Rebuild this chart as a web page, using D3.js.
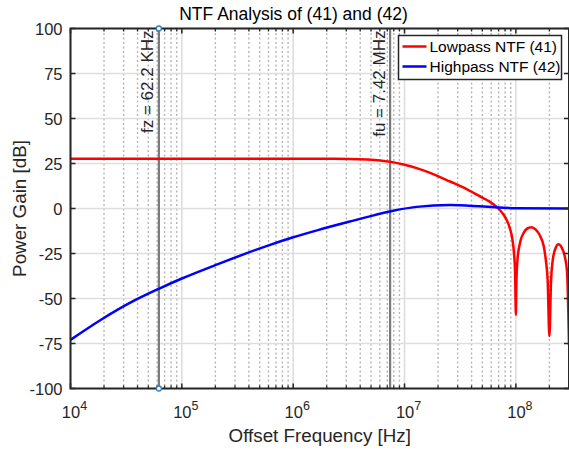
<!DOCTYPE html>
<html>
<head>
<meta charset="utf-8">
<script src="https://cdn.jsdelivr.net/npm/d3@7"></script>
<style>
  body { margin: 0; background: #fff; }
  svg { display: block; font-family: "Liberation Sans", Arial, Helvetica, sans-serif; }
</style>
</head>
<body>
<script>
// values
var lowFreq = [1e4, 1e5, 1e6, 2e6, 3.16e6, 4.57e6, 6.03e6, 7.55e6, 1e7, 1.285e7, 1.81e7, 2.56e7, 3.61e7, 5.09e7,
  5.71e7, 6.41e7, 7.19e7, 7.71e7, 8.26e7, 8.85e7, 9.27e7, 9.59e7, 9.84e7, 1.0e8,
  1.01e8, 1.035e8, 1.1e8, 1.175e8, 1.26e8, 1.38e8,
  1.51e8, 1.66e8, 1.78e8, 1.86e8, 1.93e8, 2.0e8, 2.07e8, 2.14e8, 2.29e8, 2.4e8, 2.57e8, 2.75e8, 2.88e8, 3.0e8];
var lowGain = [27.7, 27.7, 27.7, 27.6, 27.5, 27.2, 26.7, 25.9, 24.3, 22.4, 19.1, 15.0, 10.8, 5.8,
  4.1, 1.9, -0.9, -3.2, -6.4, -11.2, -16.5, -24, -36, -59,
  -42, -28, -18, -13.5, -11.2, -10.4,
  -11.8, -15.6, -21, -29, -40, -71, -40, -29, -21.5, -19.8, -21.5, -26.7, -35, -76];

var highFreq = [1e4, 1.88e4, 3.76e4, 6.21e4, 1e5, 2.11e5, 5.93e5, 1e6, 1.667e6, 3.16e6, 4.57e6, 7.55e6,
  1.285e7, 2.56e7, 5.09e7, 1e8, 3e8];
var highGain = [-73, -61.8, -51.1, -44.6, -38.9, -30.9, -20.6, -16.0, -12.0, -7.4, -4.8, -1.5,
  0.9, 1.9, 1.1, 0.2, 0];

var markFreq = [62.2e3, 7.42e6];
var markText = ["fz = 62.2 KHz", "fu = 7.42 MHz"];

var seriesNames = ["Lowpass NTF (41)", "Highpass NTF (42)"];
var seriesColors = ["#ff0000", "#0000ff"];

var yTicks = [-100, -75, -50, -25, 0, 25, 50, 75, 100];
var decades = [1e4, 1e5, 1e6, 1e7, 1e8];
var decadeExp = ["4", "5", "6", "7", "8"];

var W = 569, H = 454;
var pL = 70.5, pR = 569, pT = 28.5, pB = 388.5;

var x = d3.scaleLog().domain([1e4, 3e8]).range([pL, pR]);
var y = d3.scaleLinear().domain([-100, 100]).range([pB, pT]);

var minors = [];
decades.forEach(function (d) {
  for (var k = 2; k <= 9; k++) {
    if (d * k <= 3e8) minors.push(d * k);
  }
});

var svg = d3.select("body").append("svg")
    .attr("width", W)
    .attr("height", H);

var grid = svg.append("g");
// minor grid (dotted)
grid.selectAll(".minor").data(minors).enter().append("line")
    .attr("x1", function (d) { return x(d); })
    .attr("x2", function (d) { return x(d); })
    .attr("y1", pT).attr("y2", pB)
    .style("stroke", "#b5b5b5")
    .style("stroke-width", 1.4)
    .style("stroke-dasharray", "2,2.5");
// major grid
grid.selectAll(".mx").data(decades).enter().append("line")
    .attr("x1", function (d) { return x(d); })
    .attr("x2", function (d) { return x(d); })
    .attr("y1", pT).attr("y2", pB)
    .style("stroke", "#dedede")
    .style("stroke-width", 1.6);
grid.selectAll(".my").data(yTicks).enter().append("line")
    .attr("x1", pL).attr("x2", pR)
    .attr("y1", function (d) { return y(d); })
    .attr("y2", function (d) { return y(d); })
    .style("stroke", "#dedede")
    .style("stroke-width", 1.6);

// marker lines
var marks = svg.append("g");
marks.selectAll("line").data(markFreq).enter().append("line")
    .attr("x1", function (d) { return x(d); })
    .attr("x2", function (d) { return x(d); })
    .attr("y1", pT).attr("y2", pB)
    .style("stroke", "#7a7a7a")
    .style("stroke-width", 2.2);
marks.selectAll("text").data(markFreq).enter().append("text")
    .attr("transform", function (d) { return "translate(" + (x(d) - 5.5) + "," + (pT + 2) + ") rotate(-90)"; })
    .attr("text-anchor", "end")
    .style("font-size", "17px")
    .style("fill", "#262626")
    .text(function (d, i) { return markText[i]; });

// curves
var line = d3.line()
    .x(function (d) { return x(d[0]); })
    .y(function (d) { return y(d[1]); })
    .curve(d3.curveMonotoneX);

var lowData = lowFreq.map(function (f, i) { return [f, lowGain[i]]; });
var highData = highFreq.map(function (f, i) { return [f, highGain[i]]; });

svg.append("path").datum(lowData)
    .attr("d", line)
    .style("fill", "none")
    .style("stroke", seriesColors[0])
    .style("stroke-width", 2.5);
svg.append("path").datum(highData)
    .attr("d", line)
    .style("fill", "none")
    .style("stroke", seriesColors[1])
    .style("stroke-width", 2.5);

// axes box + ticks
var axc = "#262626";
var ax = svg.append("g").style("stroke", axc);
ax.append("rect")
    .attr("x", pL).attr("y", pT)
    .attr("width", pR - pL).attr("height", pB - pT)
    .style("fill", "none").style("stroke-width", 2);
ax.selectAll(".xt").data(decades).enter().append("path")
    .attr("d", function (d) { var px = x(d); return "M" + px + "," + pB + "v-5M" + px + "," + pT + "v5"; })
    .style("stroke-width", 1.5);
ax.selectAll(".xm").data(minors).enter().append("path")
    .attr("d", function (d) { var px = x(d); return "M" + px + "," + pB + "v-3M" + px + "," + pT + "v3"; })
    .style("stroke-width", 1.3);
ax.selectAll(".yt").data(yTicks).enter().append("path")
    .attr("d", function (d) { var py = y(d); return "M" + pL + "," + py + "h5M" + pR + "," + py + "h-5"; })
    .style("stroke-width", 1.5);

// fz data tips
svg.selectAll(".tip").data([pT, pB]).enter().append("circle")
    .attr("cx", x(markFreq[0]))
    .attr("cy", function (d) { return d; })
    .attr("r", 2.5)
    .style("fill", "#fff")
    .style("stroke", "#2f7fc1")
    .style("stroke-width", 1.3);

// tick labels
svg.selectAll(".yl").data(yTicks).enter().append("text")
    .attr("x", pL - 8)
    .attr("y", function (d) { return y(d) + 6; })
    .attr("text-anchor", "end")
    .style("font-size", "16.5px")
    .style("fill", axc)
    .text(function (d) { return d; });

var xl = svg.selectAll(".xl").data(decades).enter().append("text")
    .attr("x", function (d) { return x(d) + 4; })
    .attr("y", pB + 29)
    .attr("text-anchor", "middle")
    .style("font-size", "16.5px")
    .style("fill", axc);
xl.append("tspan").text("10");
xl.append("tspan")
    .attr("dy", -8)
    .style("font-size", "12.5px")
    .text(function (d, i) { return decadeExp[i]; });

// titles
svg.append("text")
    .attr("x", 293.5)
    .attr("y", 20)
    .attr("text-anchor", "middle")
    .style("font-size", "17.5px")
    .style("fill", "#000")
    .text("NTF Analysis of (41) and (42)");
svg.append("text")
    .attr("x", (pL + pR) / 2)
    .attr("y", 442)
    .attr("text-anchor", "middle")
    .style("font-size", "18.8px")
    .style("fill", axc)
    .text("Offset Frequency [Hz]");
svg.append("text")
    .attr("transform", "translate(26," + ((pT + pB) / 2) + ") rotate(-90)")
    .attr("text-anchor", "middle")
    .style("font-size", "18.8px")
    .style("fill", axc)
    .text("Power Gain [dB]");

// legend
var lg = svg.append("g").attr("transform", "translate(398.5,35.5)");
lg.append("rect")
    .attr("width", 163).attr("height", 44)
    .style("fill", "#fff")
    .style("stroke", axc)
    .style("stroke-width", 1.5);
var items = lg.selectAll(".it").data(seriesNames).enter().append("g")
    .attr("transform", function (d, i) { return "translate(0," + (11 + i * 20) + ")"; });
items.append("line")
    .attr("x1", 4).attr("x2", 28)
    .style("stroke", function (d, i) { return seriesColors[i]; })
    .style("stroke-width", 2.5);
items.append("text")
    .attr("x", 31)
    .attr("y", 5.5)
    .style("font-size", "15.5px")
    .style("fill", "#000")
    .text(function (d) { return d; });
</script>
</body>
</html>
